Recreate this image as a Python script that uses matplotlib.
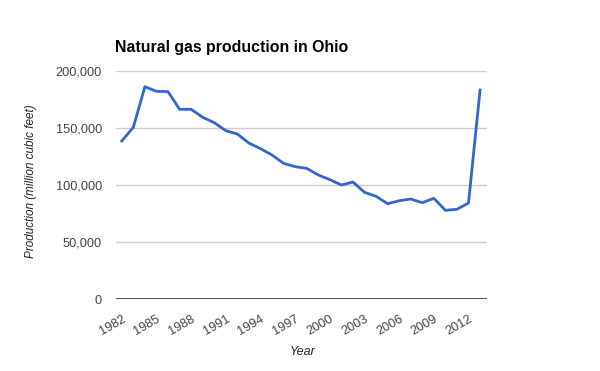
import matplotlib.pyplot as plt
import numpy as np

plt.rcParams['font.family'] = ['Liberation Sans', 'DejaVu Sans']

# annual natural gas production in Ohio (million cubic feet)
years = np.arange(1982, 2014)
production = [138600, 150600, 186200, 182200, 181900, 166400, 166400, 159400,
              154700, 147700, 144700, 136800, 131900, 126300, 119000, 116100,
              114600, 108800, 104700, 100000, 102600, 93600, 90100, 83600,
              86200, 87700, 84500, 88300, 77800, 78700, 84200, 183300]
xticks = list(range(1982, 2013, 3))
yticks = [0, 50000, 100000, 150000, 200000]

fig = plt.figure(figsize=(6, 3.71), dpi=100)
ax = fig.add_axes([116/600, 1-299/371, 371/600, 228/371])

ax.plot(years, production, color='#3366cc', linewidth=2, solid_joinstyle='round')

ax.set_xlim(1981.5, 2013.6)
ax.set_ylim(0, 200000)
ax.set_yticks(yticks)
ax.set_yticklabels(['{:,}'.format(v) for v in yticks])
ax.set_xticks(xticks)
ax.set_xticklabels([str(v) for v in xticks], rotation=30, ha='right', va='top',
                   rotation_mode='anchor')
ax.tick_params(length=0, labelsize=9.2, labelcolor='#444444')
ax.tick_params(axis='x', pad=10)
ax.tick_params(axis='y', pad=10)

for v in yticks[1:]:
    ax.axhline(v, color='#cccccc', linewidth=1, zorder=0)
ax.axhline(0, color='#333333', linewidth=1.2, zorder=1)
for s in ax.spines.values():
    s.set_visible(False)

fig.text(115/600, 1-52/371, 'Natural gas production in Ohio', fontsize=11.4,
         fontweight='bold', color='black')
fig.text(303/600, 1-352/371, 'Year', fontsize=9, style='italic',
         color='#222222', ha='center', va='center')
fig.text(31/600, 1-181/371, 'Production (million cubic feet)', fontsize=8.5,
         style='italic', color='#222222', ha='center', va='center', rotation=90)

plt.savefig('out.png', dpi=100)
